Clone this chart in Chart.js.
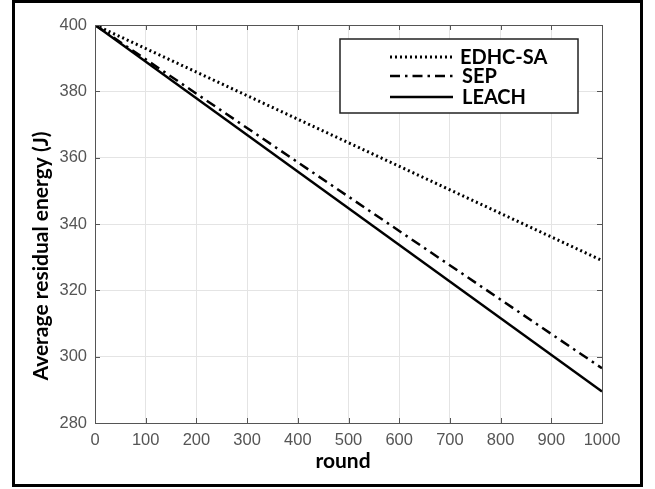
<!DOCTYPE html>
<html>
<head>
<meta charset="utf-8">
<script src="https://cdn.jsdelivr.net/npm/chart.js@4.4.0/dist/chart.umd.min.js"></script>
<style>
  body { margin: 0; background: #fff; }
  #wrap { width: 655px; height: 489px; position: relative; }
</style>
</head>
<body>
<div id="wrap"><canvas id="chart"></canvas></div>
<script>
// Werte
const runden = [0, 1000];
const edhcSa = [400, 329];
const sep = [400, 296.5];
const leach = [400, 289.5];
const xTicks = [0, 100, 200, 300, 400, 500, 600, 700, 800, 900, 1000];
const yTicks = [280, 300, 320, 340, 360, 380, 400];

function punkte(werte) {
  return runden.map((r, i) => ({ x: r, y: werte[i] }));
}

const legendeEintraege = [
  { label: "EDHC-SA", dash: [2, 3], width: 3 },
  { label: "SEP", dash: [10, 5, 2.5, 5], width: 2.5 },
  { label: "LEACH", dash: [], width: 2.5 }
];

// Rahmen, Achsentitel, Tick-Striche nach innen und Legende
const extras = {
  id: 'extras',
  afterDraw(chart) {
    const ctx = chart.ctx;
    const a = chart.chartArea;
    const xs = chart.scales.x, ys = chart.scales.y;
    ctx.save();

    // Achsenbox oben/rechts
    ctx.strokeStyle = '#555';
    ctx.lineWidth = 1;
    ctx.strokeRect(a.left + 0.5, a.top + 0.5, a.right - a.left, a.bottom - a.top);

    // Tick-Striche nach innen
    ctx.beginPath();
    xTicks.forEach(t => {
      const px = Math.round(xs.getPixelForValue(t)) + 0.5;
      ctx.moveTo(px, a.bottom); ctx.lineTo(px, a.bottom - 5);
      ctx.moveTo(px, a.top); ctx.lineTo(px, a.top + 5);
    });
    yTicks.forEach(t => {
      const py = Math.round(ys.getPixelForValue(t)) + 0.5;
      ctx.moveTo(a.left, py); ctx.lineTo(a.left + 5, py);
      ctx.moveTo(a.right, py); ctx.lineTo(a.right - 5, py);
    });
    ctx.stroke();

    // Achsentitel
    ctx.fillStyle = '#000';
    ctx.font = 'bold 21px Lato, "Liberation Sans", sans-serif';
    ctx.textAlign = 'center';
    ctx.textBaseline = 'middle';
    ctx.fillText('round', 343, 461);
    ctx.save();
    ctx.translate(41, 256);
    ctx.rotate(-Math.PI / 2);
    ctx.fillText('Average residual energy (J)', 0, 0);
    ctx.restore();

    // Legende
    ctx.fillStyle = '#fff';
    ctx.fillRect(340, 39, 238, 74);
    ctx.strokeStyle = '#222';
    ctx.lineWidth = 1.5;
    ctx.strokeRect(340, 39, 238, 74);
    const zeilen = [57, 76, 97];
    legendeEintraege.forEach((e, i) => {
      ctx.beginPath();
      ctx.strokeStyle = '#000';
      ctx.lineWidth = e.width;
      ctx.setLineDash(e.dash);
      ctx.moveTo(390, zeilen[i]);
      ctx.lineTo(453, zeilen[i]);
      ctx.stroke();
      ctx.setLineDash([]);
      ctx.fillStyle = '#000';
      ctx.font = 'bold 20px Lato, "Liberation Sans", sans-serif';
      ctx.textAlign = 'left';
      ctx.textBaseline = 'middle';
      ctx.fillText(e.label, i === 0 ? 460 : 462, zeilen[i] + 1);
    });

    // äußerer Rahmen
    ctx.strokeStyle = '#000';
    ctx.lineWidth = 3;
    ctx.strokeRect(13.5, 1.5, 628, 484);
    ctx.restore();
  }
};

const data = {
  datasets: [
    {
      label: "EDHC-SA",
      data: punkte(edhcSa),
      borderColor: "#000",
      borderWidth: 3,
      borderDash: [2, 3],
      pointRadius: 0,
      fill: false
    },
    {
      label: "SEP",
      data: punkte(sep),
      borderColor: "#000",
      borderWidth: 2.5,
      borderDash: [10, 5, 2.5, 5],
      pointRadius: 0,
      fill: false
    },
    {
      label: "LEACH",
      data: punkte(leach),
      borderColor: "#000",
      borderWidth: 2.5,
      pointRadius: 0,
      fill: false
    }
  ]
};

const tickFont = { family: '"Liberation Sans", Arial, sans-serif', size: 16.5 };

const options = {
  responsive: true,
  maintainAspectRatio: false,
  animation: false,
  layout: { padding: { top: 25, right: 53, bottom: 0, left: 0 } },
  plugins: {
    legend: { display: false },
    tooltip: { enabled: false }
  },
  scales: {
    x: {
      type: 'linear',
      min: 0, max: 1000,
      afterFit: s => { s.height = 66; },
      afterBuildTicks: s => { s.ticks = xTicks.map(v => ({ value: v })); },
      grid: { color: "#e4e4e4", lineWidth: 1, drawTicks: false },
      border: { color: "#555", width: 1 },
      ticks: { color: "#555", font: tickFont, padding: 8, maxRotation: 0, callback: v => String(v) }
    },
    y: {
      min: 280, max: 400,
      afterFit: s => { s.width = 95; },
      afterBuildTicks: s => { s.ticks = yTicks.map(v => ({ value: v })); },
      grid: { color: "#e4e4e4", lineWidth: 1, drawTicks: false },
      border: { color: "#555", width: 1 },
      ticks: { color: "#555", font: tickFont, padding: 8, callback: v => String(v) }
    }
  }
};

const ctx = document.getElementById('chart').getContext('2d');
new Chart(ctx, { type: 'line', data: data, options: options, plugins: [extras] });
</script>
</body>
</html>
